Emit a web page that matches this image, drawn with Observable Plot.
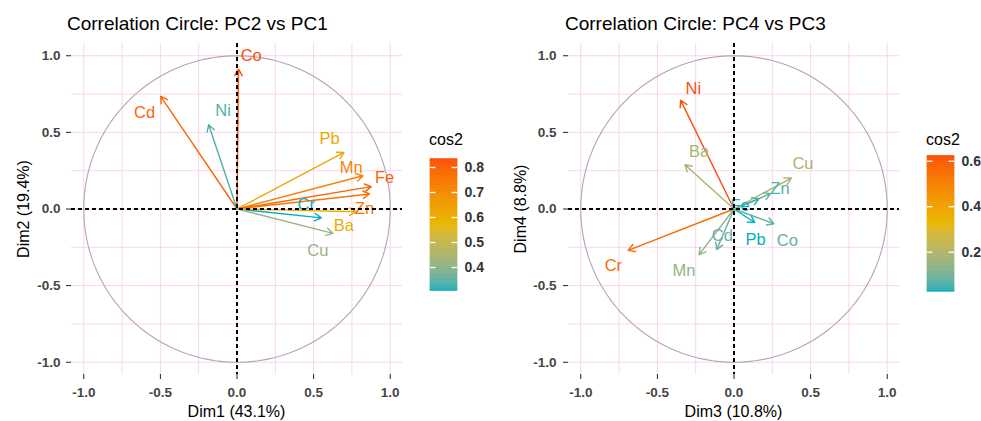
<!DOCTYPE html>
<html>
<head>
<meta charset="utf-8">
<script src="https://cdn.jsdelivr.net/npm/d3@7"></script>
<script src="https://cdn.jsdelivr.net/npm/@observablehq/plot@0.6"></script>
<style>
  body { margin: 0; background: #fff; font-family: "Liberation Sans", Arial, sans-serif; }
  #root { position: relative; width: 981px; height: 421px; overflow: hidden; background: #fff; }
  .abs { position: absolute; white-space: nowrap; line-height: 1; color: #000; }
  .title { font-size: 19px; }
  .axtitle { font-size: 16px; }
  .legtitle { font-size: 16px; }
  .pca [aria-label^="x-axis"] text, .pca [aria-label^="y-axis"] text {
    font-size: 13.5px; font-weight: bold; fill: #454545;
  }
</style>
</head>
<body>
<div id="root"></div>
<script>
// ---------- data ----------
const variables = ["Co", "Cd", "Ni", "Pb", "Mn", "Fe", "Zn", "Cr", "Ba", "Cu"];

// PC1 / PC2 coordinates
const dim1 = [0.01, -0.498, -0.185, 0.698, 0.822, 0.876, 0.865, 0.55, 0.778, 0.626];
const dim2 = [0.913, 0.735, 0.55, 0.369, 0.217, 0.146, 0.098, -0.058, -0.018, -0.159];
const labelX12 = [0.093, -0.603, -0.091, 0.604, 0.746, 0.963, 0.832, 0.452, 0.698, 0.528];
const labelY12 = [1.0, 0.63, 0.64, 0.457, 0.271, 0.206, 0.005, 0.028, -0.109, -0.272];

// PC3 / PC4 coordinates
const dim3 = [0.26, -0.113, -0.348, 0.135, -0.228, 0.163, 0.239, -0.691, -0.32, 0.374];
const dim4 = [-0.096, -0.265, 0.709, -0.088, -0.298, 0.067, 0.1, -0.27, 0.289, 0.202];
const labelX34 = [0.348, -0.076, -0.265, 0.141, -0.326, 0.04, 0.3, -0.787, -0.228, 0.45];
const labelY34 = [-0.204, -0.172, 0.785, -0.198, -0.404, 0.02, 0.133, -0.372, 0.372, 0.296];

const axisTicks = [-1, -0.5, 0, 0.5, 1];
const gridTicks = [-1, -0.75, -0.5, -0.25, 0, 0.25, 0.5, 0.75, 1];
const gradientColors = ["#00AFBB", "#E7B800", "#FC4E07"];
const legendTicks12 = [0.4, 0.5, 0.6, 0.7, 0.8];
const legendTicks34 = [0.2, 0.4, 0.6];

// ---------- helpers ----------
const FONT = '"Liberation Sans", Arial, sans-serif';
const root = document.getElementById("root");

function place(node, left, top) {
  node.style.position = "absolute";
  node.style.left = left + "px";
  node.style.top = top + "px";
  root.appendChild(node);
}
function addText(cls, text, left, top, transform) {
  const d = document.createElement("div");
  d.className = "abs " + cls;
  d.textContent = text;
  d.style.left = left + "px";
  d.style.top = top + "px";
  if (transform) d.style.transform = transform;
  root.appendChild(d);
}
function colorOptions(vals) {
  const [lo, hi] = d3.extent(vals);
  return { type: "linear", domain: [lo, (lo + hi) / 2, hi], range: gradientColors, interpolate: d3.interpolateLab };
}

const circle = d3.range(0, 362, 2).map(a => ({ cx: Math.cos(a * Math.PI / 180), cy: Math.sin(a * Math.PI / 180) }));

function panel({ xs, ys, lx, ly, width, marginLeft, marginRight, tickPadY }) {
  const rows = variables.map((n, i) => ({
    name: n, ox: 0, oy: 0, x: xs[i], y: ys[i], lx: lx[i], ly: ly[i],
    cos2: xs[i] * xs[i] + ys[i] * ys[i]
  }));
  const color = colorOptions(rows.map(d => d.cos2));
  const svg = Plot.plot({
    className: "pca",
    width, height: 421,
    marginLeft, marginRight, marginTop: 43, marginBottom: 47,
    x: { domain: [-1.08, 1.08], ticks: axisTicks, tickFormat: d => d.toFixed(1), label: null, tickSize: 5, tickPadding: 8 },
    y: { domain: [-1.08, 1.08], ticks: axisTicks, tickFormat: d => d.toFixed(1), label: null, tickSize: 5, tickPadding: tickPadY },
    color,
    style: { background: "transparent", overflow: "visible", fontFamily: FONT, color: "#222" },
    marks: [
      Plot.ruleX(gridTicks, { stroke: "#f8d5ef", strokeWidth: 1 }),
      Plot.ruleY(gridTicks, { stroke: "#f8d5ef", strokeWidth: 1 }),
      Plot.line(circle, { x: "cx", y: "cy", stroke: "#b3a5b3", strokeWidth: 1.1 }),
      Plot.arrow(rows, { x1: "ox", y1: "oy", x2: "x", y2: "y", stroke: "cos2", strokeWidth: 1.4, headLength: 8, headAngle: 60 }),
      Plot.text(rows, { x: "lx", y: "ly", text: "name", fill: "cos2", fontSize: 16.5, fontFamily: FONT }),
      Plot.ruleX([0], { stroke: "#000", strokeWidth: 2, strokeDasharray: "4,3" }),
      Plot.ruleY([0], { stroke: "#000", strokeWidth: 2, strokeDasharray: "4,3" })
    ]
  });
  return { svg, color, rows };
}

function legend({ color, ticks, yDomain, yRange, xRange, width }) {
  const [lo, hi] = [color.domain[0], color.domain[2]];
  const n = 80;
  const slices = d3.range(n).map(i => ({
    a: 0, b: 1,
    y1: lo + (hi - lo) * i / n,
    y2: lo + (hi - lo) * (i + 1) / n,
    v: lo + (hi - lo) * (i + 0.5) / n
  }));
  const tickRows = ticks.map(t => ({ t, a: 0, b: 0.2, c: 0.8, d: 1 }));
  return Plot.plot({
    width, height: 150,
    margin: 0,
    x: { domain: [0, 1], range: xRange, axis: null },
    y: { domain: yDomain, range: yRange, axis: null },
    color,
    style: { background: "transparent", overflow: "visible", fontFamily: FONT },
    marks: [
      Plot.rect(slices, { x1: "a", x2: "b", y1: "y1", y2: "y2", fill: "v", stroke: "v", strokeWidth: 0.6 }),
      Plot.ruleY(tickRows, { y: "t", x1: "a", x2: "b", stroke: "white", strokeWidth: 1.3 }),
      Plot.ruleY(tickRows, { y: "t", x1: "c", x2: "d", stroke: "white", strokeWidth: 1.3 }),
      Plot.text(tickRows, { x: "d", y: "t", text: d => d.t.toFixed(1), textAnchor: "start", dx: 7, fontSize: 14, fontWeight: "bold", fill: "#333", fontFamily: FONT })
    ]
  });
}

// ---------- left chart ----------
const left = panel({ xs: dim1, ys: dim2, lx: labelX12, ly: labelY12, width: 410, marginLeft: 71, marginRight: 8, tickPadY: 6 });
place(left.svg, 0, 0);
place(legend({ color: left.color, ticks: legendTicks12, yDomain: [0.4, 0.8], yRange: [117, 17], xRange: [10, 37], width: 70 }), 420, 150);

// ---------- right chart ----------
const right = panel({ xs: dim3, ys: dim4, lx: labelX34, ly: labelY34, width: 425, marginLeft: 88, marginRight: 6, tickPadY: 7 });
place(right.svg, 480, 0);
place(legend({ color: right.color, ticks: legendTicks34, yDomain: [0.2, 0.6], yRange: [101.7, 10.7], xRange: [22, 49], width: 76 }), 905, 150);

// ---------- texts ----------
addText("title", "Correlation Circle: PC2 vs PC1", 67, 14);
addText("title", "Correlation Circle: PC4 vs PC3", 565, 14);
addText("axtitle", "Dim1 (43.1%)", 236.5, 404, "translateX(-50%)");
addText("axtitle", "Dim3 (10.8%)", 733.5, 404, "translateX(-50%)");
addText("axtitle", "Dim2 (19.4%)", 24, 208.5, "translate(-50%,-50%) rotate(-90deg)");
addText("axtitle", "Dim4 (8.8%)", 521, 208.5, "translate(-50%,-50%) rotate(-90deg)");
addText("legtitle", "cos2", 429, 132);
addText("legtitle", "cos2", 926, 132);
</script>
</body>
</html>
